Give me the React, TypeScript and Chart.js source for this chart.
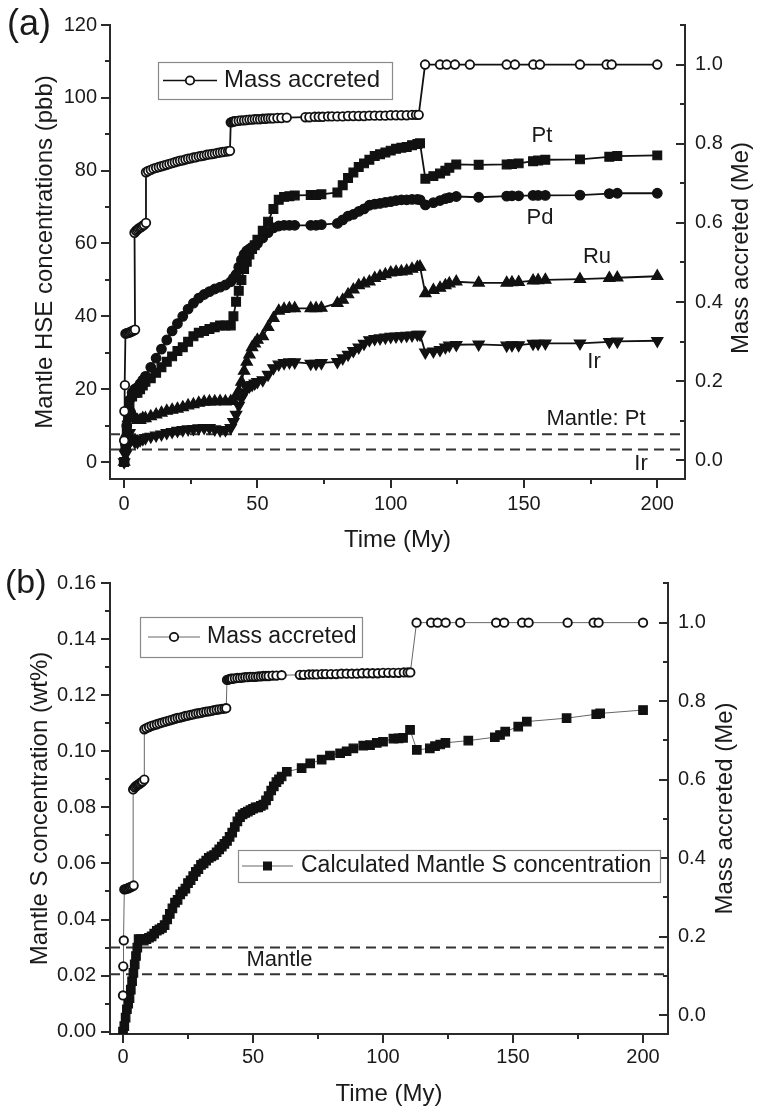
import React, { useEffect, useRef } from 'react';
import { Chart, registerables } from 'chart.js';

Chart.register(...registerables);

const FONT = '"Liberation Sans", Arial, Helvetica, sans-serif';
const INK = '#1a1a1a';
const AXIS = '#2a2a2a';

// ---------------- Panel (a): HSE concentrations ----------------
const hseTime = [
  0, 0.5, 1, 1.5, 2, 3, 4, 5, 6, 7, 8, 10, 12, 14, 16, 18, 20, 22, 24, 26, 28, 30,
  32, 34, 36, 38, 40, 41, 42, 43, 44, 45, 46, 47, 48, 49, 50, 52, 54, 56, 58, 60,
  62, 64, 70, 72, 74, 80, 82, 84, 86, 88, 90, 92, 94, 96, 98, 100, 102, 104, 106, 108,
  110, 111, 113, 116, 118.5, 120.5, 122, 124.6, 133, 143.5, 145.5, 148, 153.4, 155.3, 158,
  171, 182, 185, 200,
];
const ptConc = [
  0, 4, 9, 13, 16, 18, 19, 19, 20, 21, 22, 23, 24.5, 26, 27.5, 29, 30.5, 31.5, 33, 34.5, 35.5, 36,
  36.5, 37, 37.5, 37.5, 37.5, 40, 44, 47, 50, 53, 55, 57, 58.5, 59.5, 61, 63.5, 66, 69.5, 72, 72.8,
  73, 73.2, 73.3, 73.3, 73.5, 74, 76, 78, 79.5, 81, 82, 83, 84, 84.5, 85, 85.5, 86, 86.3, 86.5, 87,
  87.3, 87.5, 77.8, 78.5, 79.2, 80, 80.8, 81.7, 81.6, 81.7, 81.8, 82, 82.6, 82.8, 83,
  83.1, 83.8, 84, 84.2,
];
const pdConc = [
  0, 5, 10, 14, 17, 19, 20, 20.5, 21.5, 22.5, 23.5, 26, 28.5, 31, 33.5, 36, 38, 40, 42, 43.6, 45, 46,
  46.8, 47.5, 48, 48.6, 49.5, 50.5, 51.5, 53.5, 55.5, 57, 58, 58.5, 59, 59.5, 60, 61.5, 63, 64.3, 64.8, 65,
  65, 65, 65, 65, 65.2, 65.5, 66.5, 67.5, 68, 68.8, 69.5, 70.5, 70.8, 71, 71.3, 71.5, 71.8, 72, 72, 72.1,
  72.1, 72, 70.6, 71.2, 71.8, 72.3, 72.6, 72.9, 72.7, 73, 73.1, 73.1, 73.2, 73.2, 73.2,
  73.3, 73.7, 73.8, 73.8,
];
const ruConc = [
  0, 4, 8, 12, 15, 13.5, 12, 11.5, 11.5, 12, 12, 12.5, 13, 13.5, 14, 14.3, 14.6, 15, 15.5, 15.8, 16.2, 16.5,
  16.6, 16.6, 16.7, 16.6, 16.7, 16.8, 18, 19.5, 22, 25, 27.5, 29.5, 31.5, 32.5, 33.5, 34.5, 37, 39.5, 41.5, 42,
  42.2, 42.2, 42.2, 42.2, 42.3, 43.6, 44.5, 46, 47.3, 48.5, 49, 49.5, 50.5, 51, 51.5, 52, 52.2, 52.3, 52.5, 53,
  53.5, 53.6, 46.3, 47.2, 47.8, 48.5, 49, 49.5, 49.2, 49.2, 49.3, 49.4, 49.8, 49.9, 50,
  50.2, 50.5, 50.6, 51,
];
const irConc = [
  0, 2, 4, 6, 8, 6.5, 5.5, 5.5, 6, 6.3, 6.6, 7, 7.3, 7.6, 8, 8.3, 8.6, 8.8, 9, 9.1, 9.3, 9.4,
  9.4, 9, 8.7, 8.8, 9.4, 11, 13, 15.5, 17.5, 19, 20.2, 20.8, 21.2, 21.6, 22, 22.5, 24, 25.8, 26.8, 27.2,
  27.4, 27.4, 27, 27, 27.2, 27.5, 28.5, 29.5, 30.5, 31.5, 32.5, 33.5, 33.8, 34, 34.2, 34.4, 34.5, 34.6, 34.7, 34.8,
  35, 35, 30.1, 30.4, 30.8, 31.5, 32, 32.2, 32.3, 32, 32.1, 32.1, 32.5, 32.5, 32.6,
  32.6, 33, 33.1, 33.3,
];
const mantlePt = 7.6;
const mantleIr = 3.4;

// ---------------- Mass accreted (both panels) ----------------
const massTime = [
  0, 0.1, 0.3, 0.5, 1, 1.5, 2, 2.5, 3, 3.5, 4.1,
  3.9, 4.5, 5, 5.5, 6, 6.5, 7, 7.5, 8.2,
  8.2, 9, 10, 11, 12, 13, 14, 15, 16, 17, 18, 19, 20, 21, 22, 23, 24, 25, 26, 27, 28, 29, 30,
  31, 32, 33, 34, 35, 36, 37, 38, 39, 39.7,
  40, 40.5, 41, 41.5, 42, 43, 44, 45, 46, 47, 48, 49, 50, 51, 52, 53, 54, 55, 56, 57.5, 59, 61,
  68, 69.5, 71.5, 73, 74.5, 76.5, 78, 80, 82, 84, 86, 88, 90, 92, 94, 96, 98, 100, 102, 104, 106, 108,
  109.5, 110.5,
  112.9, 118.5, 121, 124.1, 129.7, 143.5, 146.6, 153.5, 156, 171, 181, 182.9, 200,
];
const massAccreted = [
  0.05, 0.124, 0.19, 0.32, 0.321, 0.322, 0.323, 0.325, 0.326, 0.328, 0.33,
  0.575, 0.58, 0.583, 0.586, 0.588, 0.59, 0.593, 0.595, 0.6,
  0.728, 0.731, 0.734, 0.737, 0.739, 0.741, 0.743, 0.745, 0.747, 0.749, 0.751, 0.753, 0.755, 0.757, 0.758,
  0.76, 0.762, 0.763, 0.765, 0.766, 0.768, 0.769, 0.77, 0.772, 0.773, 0.774, 0.775, 0.777, 0.778, 0.779,
  0.78, 0.781, 0.782,
  0.854, 0.855, 0.856, 0.857, 0.857, 0.858, 0.859, 0.859, 0.86, 0.861, 0.861, 0.862, 0.862, 0.862, 0.863,
  0.863, 0.864, 0.864, 0.864, 0.865, 0.865, 0.866,
  0.867, 0.867, 0.868, 0.868, 0.868, 0.869, 0.869, 0.869, 0.869, 0.87, 0.87, 0.87, 0.87, 0.871, 0.871,
  0.871, 0.871, 0.872, 0.872, 0.872, 0.872, 0.873, 0.873, 0.873,
  1.0, 1.0, 1.0, 1.0, 1.0, 1.0, 1.0, 1.0, 1.0, 1.0, 1.0, 1.0, 1.0,
];

// ---------------- Panel (b): mantle S ----------------
const sTime = [
  0, 0.5, 1, 1.5, 2, 2.5, 3, 3.5, 4, 4.5, 5, 5.5, 6,
  7, 8, 9, 10, 11, 12, 13, 14, 15, 16, 17, 18, 19, 20, 21, 22, 23, 24, 25, 26, 27, 28, 29, 30,
  31, 32, 33, 34, 35, 36, 37, 38, 39, 40, 41, 42, 43, 44, 45, 46, 47, 48, 49, 50, 51, 52, 53, 54,
  55, 56, 57, 58, 59, 60, 61,
  63, 68.7, 72, 76.4, 79.6, 83.5, 86, 88.6, 92.4, 95, 97.6, 100,
  104, 106, 107.7, 110.4, 113, 118, 120, 122, 124, 132.8, 143, 145, 147, 152, 155.3,
  170.6, 182, 183.5, 200,
];
const sConc = [
  0, 0.002, 0.005, 0.008, 0.01, 0.012, 0.015, 0.018, 0.021, 0.024, 0.027, 0.03, 0.033,
  0.033, 0.0325, 0.033, 0.0335, 0.034, 0.035, 0.036, 0.0365, 0.037, 0.038,
  0.04, 0.042, 0.044, 0.046, 0.047, 0.049, 0.05, 0.051, 0.053, 0.054,
  0.0555, 0.057, 0.058, 0.0595, 0.06, 0.061, 0.062, 0.0625, 0.063, 0.064,
  0.065, 0.066, 0.067, 0.068, 0.0695, 0.071, 0.073, 0.075, 0.0765, 0.0775,
  0.078, 0.0785, 0.079, 0.0795, 0.08, 0.08, 0.0805, 0.081, 0.0825, 0.084,
  0.086, 0.0875, 0.089, 0.09, 0.091,
  0.0927, 0.094, 0.0957, 0.097, 0.0985, 0.0993, 0.1, 0.101, 0.102, 0.1022, 0.103, 0.1034,
  0.1045, 0.1046, 0.1048, 0.1076,
  0.1005, 0.101, 0.1018, 0.1024, 0.103, 0.1038,
  0.105, 0.1058, 0.107, 0.1088, 0.1106,
  0.1118, 0.1132, 0.1135, 0.1147,
];
const mantleSHigh = 0.03;
const mantleSLow = 0.0205;

// ---------------- Axis ticks ----------------
const timeTicks = [0, 50, 100, 150, 200];
const timeMinor = [25, 75, 125, 175];
const hseTicks = [0, 20, 40, 60, 80, 100, 120];
const hseMinor = [10, 30, 50, 70, 90, 110];
const massTicks = [0, 0.2, 0.4, 0.6, 0.8, 1.0];
const massMinor = [0.1, 0.3, 0.5, 0.7, 0.9, 1.1];
const sTicks = [0, 0.02, 0.04, 0.06, 0.08, 0.1, 0.12, 0.14, 0.16];
const sMinor = [0.01, 0.03, 0.05, 0.07, 0.09, 0.11, 0.13, 0.15];

const topX: [number, number] = [-5.3, 210.4];
const topY: [number, number] = [-4.67, 120];
const topMass: [number, number] = [-0.0472, 1.1];
const botX: [number, number] = [-5, 209.6];
const botY: [number, number] = [-0.00082, 0.16];
const botMass: [number, number] = [-0.0484, 1.101];

const pts = (xs: number[], ys: number[]) => xs.map((x, i) => ({ x, y: ys[i] }));

// ---------------- Plugins ----------------
const axisTicksPlugin = {
  id: 'axisTicks',
  afterDraw(chart: any, _a: any, opts: any) {
    const { ctx, chartArea } = chart;
    ctx.save();
    ctx.strokeStyle = AXIS;
    ctx.lineWidth = 2;
    (opts.specs || []).forEach((spec: any) => {
      const sc = chart.scales[spec.id];
      const tick = (v: number, len: number) => {
        const p = Math.round(sc.getPixelForValue(v));
        ctx.beginPath();
        if (spec.side === 'bottom') {
          ctx.moveTo(p, chartArea.bottom);
          ctx.lineTo(p, chartArea.bottom + len);
        } else if (spec.side === 'left') {
          ctx.moveTo(chartArea.left, p);
          ctx.lineTo(chartArea.left - len, p);
        } else {
          ctx.moveTo(chartArea.right, p);
          ctx.lineTo(chartArea.right - len, p);
        }
        ctx.stroke();
      };
      spec.major.forEach((v: number) => tick(v, 9));
      spec.minor.forEach((v: number) => tick(v, 5));
    });
    ctx.restore();
  },
};

const notesPlugin = {
  id: 'notes',
  afterDraw(chart: any, _a: any, opts: any) {
    const ctx = chart.ctx;
    ctx.save();
    (opts.legends || []).forEach((l: any) => {
      ctx.strokeStyle = '#8a8a8a';
      ctx.lineWidth = 1.2;
      ctx.fillStyle = '#fff';
      ctx.fillRect(l.box[0], l.box[1], l.box[2] - l.box[0], l.box[3] - l.box[1]);
      ctx.strokeRect(l.box[0] + 0.5, l.box[1] + 0.5, l.box[2] - l.box[0], l.box[3] - l.box[1]);
      ctx.strokeStyle = l.lineColor;
      ctx.lineWidth = l.lineWidth;
      ctx.beginPath();
      ctx.moveTo(l.line[0], l.y);
      ctx.lineTo(l.line[1], l.y);
      ctx.stroke();
      const mx = (l.line[0] + l.line[1]) / 2;
      if (l.marker === 'circle') {
        ctx.beginPath();
        ctx.arc(mx, l.y, 4.2, 0, Math.PI * 2);
        ctx.fillStyle = '#fff';
        ctx.fill();
        ctx.strokeStyle = '#111';
        ctx.lineWidth = 1.8;
        ctx.stroke();
      } else {
        ctx.fillStyle = '#111';
        ctx.fillRect(mx - 4.5, l.y - 4.5, 9, 9);
      }
      ctx.fillStyle = INK;
      ctx.font = `${l.size}px ${FONT}`;
      ctx.textAlign = 'left';
      ctx.textBaseline = 'middle';
      ctx.fillText(l.text, l.textX, l.y);
    });
    ctx.fillStyle = INK;
    (opts.texts || []).forEach((t: any) => {
      ctx.save();
      ctx.font = `${t.size}px ${FONT}`;
      ctx.textAlign = t.align || 'center';
      ctx.textBaseline = 'middle';
      ctx.translate(t.x, t.y);
      if (t.rotate) ctx.rotate(t.rotate);
      ctx.fillText(t.text, 0, 0);
      ctx.restore();
    });
    ctx.restore();
  },
};

const tickFont = { family: FONT, size: 20 };
const titleFont = { family: FONT, size: 24 };

function lineSet(label: string, data: any[], axis: string, style: string, radius: number, extra: any = {}) {
  return {
    label,
    data,
    yAxisID: axis,
    showLine: true,
    borderColor: '#111',
    borderWidth: 1.8,
    pointStyle: style,
    pointRadius: radius,
    pointHoverRadius: radius,
    pointBackgroundColor: '#111',
    pointBorderColor: '#111',
    pointBorderWidth: 1.2,
    ...extra,
  };
}

function dashedSet(label: string, xr: [number, number], y: number) {
  return {
    label,
    data: [{ x: xr[0], y }, { x: xr[1], y }],
    yAxisID: 'y',
    showLine: true,
    borderColor: '#333',
    borderWidth: 2,
    borderDash: [10, 6],
    pointRadius: 0,
    pointHoverRadius: 0,
  };
}

function makeScales(o: any) {
  const fixTicks = (vals: number[]) => (s: any) => {
    s.ticks = vals.map((v) => ({ value: v }));
  };
  return {
    x: {
      type: 'linear',
      min: o.x[0],
      max: o.x[1],
      afterBuildTicks: fixTicks(timeTicks),
      afterFit: (s: any) => {
        s.height = o.xHeight;
      },
      grid: { display: false, drawTicks: false },
      border: { display: true, color: AXIS, width: 2 },
      ticks: { font: tickFont, color: INK, padding: o.xPad, maxRotation: 0, autoSkip: false, callback: (v: any) => String(v) },
      title: { display: true, text: 'Time (My)', font: titleFont, color: INK, padding: { top: 0, bottom: o.xTitlePad } },
    },
    y: {
      type: 'linear',
      position: 'left',
      min: o.y[0],
      max: o.y[1],
      afterBuildTicks: fixTicks(o.yTicks),
      afterFit: (s: any) => {
        s.width = 110;
      },
      grid: { display: false, drawTicks: false },
      border: { display: true, color: AXIS, width: 2 },
      ticks: { font: tickFont, color: INK, padding: o.yPad, autoSkip: false, callback: o.yFmt },
      title: { display: true, text: o.yTitle, font: titleFont, color: INK, padding: { top: o.yTitlePad, bottom: 0 } },
    },
    yMass: {
      type: 'linear',
      position: 'right',
      min: o.m[0],
      max: o.m[1],
      afterBuildTicks: fixTicks(massTicks),
      afterFit: (s: any) => {
        s.width = o.rightWidth;
      },
      grid: { display: false, drawTicks: false },
      border: { display: true, color: AXIS, width: 2 },
      ticks: { font: tickFont, color: INK, padding: 10, autoSkip: false, callback: (v: any) => Number(v).toFixed(1) },
    },
  };
}

function topConfig(): any {
  return {
    type: 'scatter',
    data: {
      datasets: [
        lineSet('Mass accreted', pts(massTime, massAccreted), 'yMass', 'circle', 4.3, {
          pointBackgroundColor: '#fff',
          pointBorderWidth: 1.8,
        }),
        lineSet('Pt', pts(hseTime, ptConc), 'y', 'rect', 6.2),
        lineSet('Pd', pts(hseTime, pdConc), 'y', 'circle', 4.8),
        lineSet('Ru', pts(hseTime, ruConc), 'y', 'triangle', 6.5),
        lineSet('Ir', pts(hseTime, irConc), 'y', 'triangle', 6.5, { pointRotation: 180 }),
        dashedSet('Mantle Pt', topX, mantlePt),
        dashedSet('Mantle Ir', topX, mantleIr),
      ],
    },
    options: {
      animation: false,
      responsive: false,
      devicePixelRatio: 1,
      layout: { padding: { top: 17, left: 0, right: 0, bottom: 0 } },
      events: [],
      scales: makeScales({
        x: topX,
        y: topY,
        m: topMass,
        xHeight: 76,
        xPad: 13.5,
        xTitlePad: 0,
        yTicks: hseTicks,
        yPad: 13,
        yFmt: (v: any) => String(v),
        yTitle: 'Mantle HSE concentrations (pbb)',
        yTitlePad: 31,
        rightWidth: 73,
      }),
      plugins: {
        legend: { display: false },
        tooltip: { enabled: false },
        axisTicks: {
          specs: [
            { id: 'x', side: 'bottom', major: timeTicks, minor: timeMinor },
            { id: 'y', side: 'left', major: hseTicks, minor: hseMinor },
            { id: 'yMass', side: 'right', major: massTicks, minor: massMinor },
          ],
        },
        notes: {
          legends: [
            { box: [158, 62, 392, 99], line: [163, 217], y: 80.5, lineColor: '#111', lineWidth: 1.6, marker: 'circle', text: 'Mass accreted', textX: 224, size: 24 },
          ],
          texts: [
            { text: '(a)', x: 7, y: 25, size: 36, align: 'left' },
            { text: 'Pt', x: 542, y: 136, size: 22 },
            { text: 'Pd', x: 540, y: 218, size: 22 },
            { text: 'Ru', x: 597, y: 257, size: 22 },
            { text: 'Ir', x: 594, y: 362, size: 22 },
            { text: 'Mantle: Pt', x: 596, y: 419, size: 22 },
            { text: 'Ir', x: 641, y: 464, size: 22 },
            { text: 'Mass accreted (Me)', x: 741, y: 248, size: 24, rotate: -Math.PI / 2 },
          ],
        },
      },
    },
    plugins: [axisTicksPlugin, notesPlugin],
  };
}

function bottomConfig(): any {
  const thin = { borderColor: '#666', borderWidth: 1 };
  return {
    type: 'scatter',
    data: {
      datasets: [
        lineSet('Mass accreted', pts(massTime, massAccreted), 'yMass', 'circle', 4.2, {
          ...thin,
          pointBackgroundColor: '#fff',
          pointBorderColor: '#111',
          pointBorderWidth: 1.9,
        }),
        lineSet('Calculated Mantle S concentration', pts(sTime, sConc), 'y', 'rect', 6, thin),
        dashedSet('Mantle S high', botX, mantleSHigh),
        dashedSet('Mantle S low', botX, mantleSLow),
      ],
    },
    options: {
      animation: false,
      responsive: false,
      devicePixelRatio: 1,
      layout: { padding: { top: 28, left: 0, right: 0, bottom: 0 } },
      events: [],
      scales: makeScales({
        x: botX,
        y: botY,
        m: botMass,
        xHeight: 76,
        xPad: 11.5,
        xTitlePad: 1.6,
        yTicks: sTicks,
        yPad: 14,
        yFmt: (v: any) => Number(v).toFixed(2),
        yTitle: 'Mantle S concentration (wt%)',
        yTitlePad: 26,
        rightWidth: 90,
      }),
      plugins: {
        legend: { display: false },
        tooltip: { enabled: false },
        axisTicks: {
          specs: [
            { id: 'x', side: 'bottom', major: timeTicks, minor: timeMinor },
            { id: 'y', side: 'left', major: sTicks, minor: sMinor },
            { id: 'yMass', side: 'right', major: massTicks, minor: massMinor },
          ],
        },
        notes: {
          legends: [
            { box: [140, 62, 362, 102], line: [148, 200], y: 82, lineColor: '#666', lineWidth: 1, marker: 'circle', text: 'Mass accreted', textX: 207, size: 23 },
            { box: [238, 295, 660, 327], line: [242, 293], y: 311, lineColor: '#666', lineWidth: 1, marker: 'square', text: 'Calculated Mantle S concentration', textX: 301, size: 23 },
          ],
          texts: [
            { text: '(b)', x: 5, y: 28.5, size: 34, align: 'left' },
            { text: 'Mantle', x: 279.5, y: 405, size: 22 },
            { text: 'Mass accreted (Me)', x: 725, y: 253.5, size: 24, rotate: -Math.PI / 2 },
          ],
        },
      },
    },
    plugins: [axisTicksPlugin, notesPlugin],
  };
}

function Panel({ make, top, height }: { make: () => any; top: number; height: number }) {
  const ref = useRef<HTMLCanvasElement>(null);
  useEffect(() => {
    if (!ref.current) return;
    const chart = new Chart(ref.current, make());
    return () => chart.destroy();
  }, [make]);
  return (
    <canvas
      ref={ref}
      width={758}
      height={height}
      style={{ position: 'absolute', left: 0, top, width: 758, height, display: 'block' }}
    />
  );
}

export default function App() {
  return (
    <div style={{ position: 'absolute', left: 0, top: 0, width: 758, height: 1110, background: '#fff', overflow: 'hidden' }}>
      <Panel make={topConfig} top={0} height={555} />
      <Panel make={bottomConfig} top={555} height={555} />
    </div>
  );
}
